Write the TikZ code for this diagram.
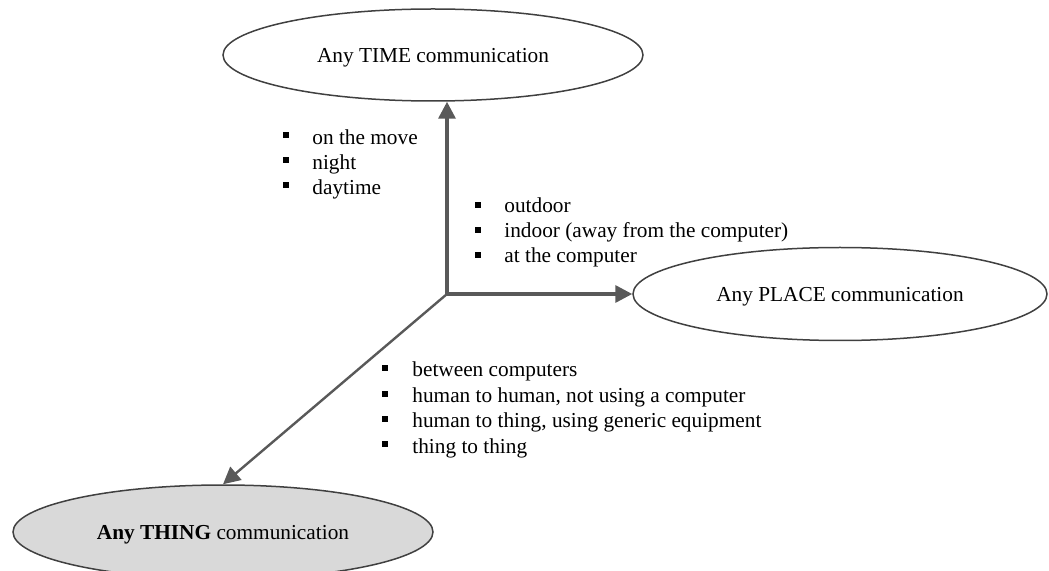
\documentclass[tikz,border=0pt]{standalone}
\usepackage{fontspec}
\setmainfont{Liberation Serif}
\usetikzlibrary{arrows.meta,shapes.geometric}
\definecolor{arrowgray}{HTML}{595959}
\definecolor{linegray}{HTML}{404040}
\definecolor{thingfill}{HTML}{D9D9D9}
\begin{document}
\begin{tikzpicture}[x=0.5pt,y=-0.5pt,
  every node/.style={font=\fontsize{10.65}{12.5}\selectfont},
  oval/.style={ellipse,draw=linegray,line width=0.75pt,inner sep=0pt,text=black,text depth=0pt},
  conn/.style={draw=arrowgray,line width=1.7pt,-{Triangle[length=8.5pt,width=8.5pt]}},
  thinconn/.style={draw=arrowgray,line width=1.2pt,-{Triangle[length=8.5pt,width=8.5pt]}},
  itemtext/.style={anchor=base west,inner sep=0pt},
  bul/.style={fill=black,inner sep=0pt,minimum size=3pt,anchor=south west}
]
\useasboundingbox (0,0) rectangle (1049,571);
\clip (0,0) rectangle (1049,571);

\node[oval,minimum width=210pt,minimum height=46pt] (time) at (433,55) {Any TIME communication};
\node[oval,minimum width=207pt,minimum height=46.5pt] (place) at (840,294) {Any PLACE communication};
\node[oval,fill=thingfill,minimum width=210pt,minimum height=47pt] (thing) at (223,532) {\textbf{Any THING} communication};

\coordinate (o) at (447,294);
\draw[conn] (o) -- (o |- time.south);
\draw[conn] (o) -- (place.west);
\draw[thinconn] (o) -- (thing.north);

% TIME list
\node[bul] (b1) at (283,138) {};
\node[itemtext] (t1) at (312,145) {on the move};
\node[bul] (b2) at (283,163) {};
\node[itemtext] (t2) at (312,170) {night};
\node[bul] (b3) at (283,188) {};
\node[itemtext] (t3) at (312,195) {daytime};

% PLACE list
\node[bul] (p1b) at (475,208) {};
\node[itemtext] (p1) at (504,213) {outdoor};
\node[bul] (p2b) at (475,233) {};
\node[itemtext] (p2) at (504,238) {indoor (away from the computer)};
\node[bul] (p3b) at (475,258) {};
\node[itemtext] (p3) at (504,263) {at the computer};

% THING list
\node[bul] (h1b) at (382,371) {};
\node[itemtext] (h1) at (412,377) {between computers};
\node[bul] (h2b) at (382,397) {};
\node[itemtext] (h2) at (412,403) {human to human, not using a computer};
\node[bul] (h3b) at (382,422) {};
\node[itemtext] (h3) at (412,428) {human to thing, using generic equipment};
\node[bul] (h4b) at (382,447) {};
\node[itemtext] (h4) at (412,453) {thing to thing};
\end{tikzpicture}
\end{document}
